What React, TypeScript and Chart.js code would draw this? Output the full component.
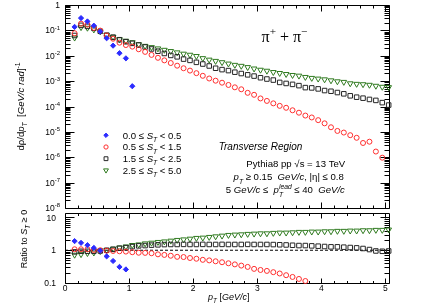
import React, { useEffect, useRef } from 'react';
import { Chart, registerables } from 'chart.js';
import { drawPoint } from 'chart.js/helpers';

Chart.register(...registerables);

// ---------------- data ----------------
const ptBins = [0.15, 0.25, 0.35, 0.45, 0.55, 0.65, 0.75, 0.85, 0.95, 1.05,
  1.15, 1.25, 1.35, 1.45, 1.55, 1.65, 1.75, 1.85, 1.95, 2.05,
  2.15, 2.25, 2.35, 2.45, 2.55, 2.65, 2.75, 2.85, 2.95, 3.05,
  3.15, 3.25, 3.35, 3.45, 3.55, 3.65, 3.75, 3.85, 3.95, 4.05,
  4.15, 4.25, 4.35, 4.45, 4.55, 4.65, 4.75, 4.85, 4.95, 5.05];

// dρ/dpT spectra per S_T class
const spectrumSt0 = [0.137, 0.305, 0.225, 0.153, 0.09, 0.049, 0.025, 0.0126, 0.0079, 0.00063];
const spectrumSt1 = [0.077, 0.184, 0.168, 0.125, 0.098, 0.0629, 0.0469, 0.0328, 0.0264, 0.0229,
  0.018, 0.0142, 0.0108, 0.0083, 0.00658, 0.00517, 0.00406, 0.00322, 0.0026, 0.00206,
  0.00162, 0.00127, 0.00104, 8.67e-4, 7.06e-4, 5.7e-4, 4.77e-4, 3.46e-4, 2.89e-4, 2.08e-4,
  1.66e-4, 1.33e-4, 1.06e-4, 8.9e-5, 7.1e-5, 5.7e-5, 4.4e-5, 3.7e-5, 2.9e-5, 2.17e-5,
  1.52e-5, 1.09e-5, 9.4e-6, 7.4e-6, 5.85e-6, 3.65e-6, 4.1e-6, 1.68e-6, 9.6e-7];
const spectrumSt2 = [0.0629, 0.158, 0.144, 0.121, 0.092, 0.0646, 0.054, 0.0428, 0.0358, 0.0308,
  0.0264, 0.0221, 0.0185, 0.0151, 0.0123, 0.0103, 0.00906, 0.00738, 0.00657, 0.0055,
  0.00472, 0.00395, 0.00322, 0.00284, 0.0026, 0.00225, 0.00199, 0.00177, 0.00158, 0.00136,
  0.00121, 0.0011, 8.9e-4, 8.1e-4, 7.45e-4, 6.64e-4, 5.55e-4, 5.4e-4, 4.94e-4, 4.25e-4,
  3.99e-4, 3.55e-4, 3.16e-4, 2.64e-4, 2.33e-4, 2.13e-4, 1.9e-4, 1.74e-4, 1.42e-4, 1.14e-4];
const spectrumSt3 = [0.0512, 0.132, 0.125, 0.107, 0.0898, 0.0658, 0.055, 0.044, 0.0385, 0.0337,
  0.0282, 0.0242, 0.0216, 0.0192, 0.0169, 0.0151, 0.0134, 0.0119, 0.0108, 0.00964,
  0.00794, 0.00693, 0.00618, 0.0055, 0.00485, 0.00432, 0.00395, 0.00352, 0.0031, 0.00277,
  0.00253, 0.00225, 0.00206, 0.00188, 0.00172, 0.00162, 0.00144, 0.00132, 0.00124, 0.00116,
  0.00106, 9.7e-4, 9.2e-4, 8.1e-4, 7.7e-4, 7.45e-4, 7.06e-4, 6.46e-4, 5.9e-4, 5.7e-4];

// ratios to S_T >= 0
const ratioSt0 = [1.9, 1.68, 1.43, 1.18, 0.97, 0.65, 0.47, 0.31, 0.26];
const ratioSt1 = [1.07, 1.07, 1.07, 1.02, 1.0, 0.97, 0.95, 0.93, 0.91, 0.87,
  0.84, 0.83, 0.81, 0.75, 0.72, 0.68, 0.63, 0.62, 0.58, 0.55,
  0.51, 0.49, 0.46, 0.43, 0.4, 0.37, 0.34, 0.31, 0.27, 0.25,
  0.234, 0.214, 0.195, 0.173, 0.153, 0.133, 0.115];
const ratioSt2 = [0.89, 0.93, 0.93, 0.93, 0.95, 1.0, 1.07, 1.15, 1.2, 1.29,
  1.36, 1.39, 1.43, 1.46, 1.49, 1.5, 1.5, 1.51, 1.5, 1.5,
  1.51, 1.5, 1.5, 1.51, 1.5, 1.5, 1.5, 1.51, 1.5, 1.5,
  1.5, 1.49, 1.47, 1.45, 1.42, 1.39, 1.39, 1.36, 1.33, 1.3,
  1.27, 1.27, 1.24, 1.21, 1.18, 1.13, 1.05, 0.95, 0.93, 0.95];
const ratioSt3 = [0.72, 0.75, 0.81, 0.84, 0.93, 1.0, 1.1, 1.2, 1.29, 1.43,
  1.49, 1.6, 1.68, 1.77, 1.84, 1.94, 2.04, 2.12, 2.23, 2.35,
  2.4, 2.52, 2.63, 2.76, 2.9, 2.97, 3.03, 3.12, 3.18, 3.25,
  3.25, 3.35, 3.42, 3.42, 3.49, 3.59, 3.59, 3.67, 3.67, 3.75,
  3.75, 3.86, 3.86, 3.94, 3.94, 4.03, 4.03, 4.14, 4.14, 4.24];

const stLow = ['0.0', '0.5', '1.5', '2.5'];
const stHigh = ['0.5', '1.5', '2.5', '5.0'];
const xTickValues = [0, 1, 2, 3, 4, 5];
const xTickLabels = ['0', '1', '2', '3', '4', '5'];
const topYExponents = [-8, -7, -6, -5, -4, -3, -2, -1, 0];
const ratioYTicks = [0.1, 1, 10];
const ratioYTickLabels = ['0.1', '1', '10'];

// ---------------- styles ----------------
const SANS = '"Liberation Sans", Arial, Helvetica, sans-serif';
const SERIF = '"Liberation Serif", "Times New Roman", serif';
const COLORS = ['#2b2bff', '#ff2e2e', '#262626', '#2f7a1f'];
const MARK = [
  { style: 'rectRot', r: 2.6, rot: 0, fill: true },
  { style: 'circle', r: 2.5, rot: 0, fill: false },
  { style: 'rect', r: 3.2, rot: 0, fill: false },
  { style: 'triangle', r: 3.3, rot: 180, fill: false },
];

type Seg = { k: 'n' | 'sub' | 'sup' | 'stack'; t: string; t2?: string; i?: boolean };
const N = (t: string, i = false): Seg => ({ k: 'n', t, i });
const SUB = (t: string, i = true): Seg => ({ k: 'sub', t, i });
const SUP = (t: string, i = false): Seg => ({ k: 'sup', t, i });
const STK = (sup: string, sub: string, i = true): Seg => ({ k: 'stack', t: sup, t2: sub, i });

function drawRich(ctx: CanvasRenderingContext2D, segs: Seg[], x: number, yc: number, size: number,
  align: 'left' | 'center' | 'right', fam = SANS) {
  const fnt = (sz: number, it?: boolean) => `${it ? 'italic ' : ''}${sz}px ${fam}`;
  const small = size * 0.7;
  const widths = segs.map((s) => {
    if (s.k === 'stack') {
      ctx.font = fnt(small, s.i);
      return Math.max(ctx.measureText(s.t).width, ctx.measureText(s.t2 || '').width);
    }
    ctx.font = fnt(s.k === 'n' ? size : small, s.i);
    return ctx.measureText(s.t).width;
  });
  const total = widths.reduce((a, b) => a + b, 0);
  let cx = align === 'left' ? x : align === 'center' ? x - total / 2 : x - total;
  const base = yc + 0.36 * size;
  ctx.textAlign = 'left';
  ctx.textBaseline = 'alphabetic';
  ctx.fillStyle = '#000';
  segs.forEach((s, j) => {
    if (s.k === 'stack') {
      ctx.font = fnt(small, s.i);
      ctx.fillText(s.t, cx, base - 0.45 * size);
      ctx.fillText(s.t2 || '', cx, base + 0.32 * size);
    } else {
      ctx.font = fnt(s.k === 'n' ? size : small, s.i);
      const dy = s.k === 'sub' ? 0.32 * size : s.k === 'sup' ? -0.42 * size : 0;
      ctx.fillText(s.t, cx, base + dy);
    }
    cx += widths[j];
  });
}

function drawFrameTicks(chart: any, xMaj: number, xMin: number, yMaj: number, yMin: number) {
  const { ctx, chartArea: a, scales } = chart;
  const xs = scales.x;
  const ys = scales.y;
  ctx.save();
  ctx.strokeStyle = '#000';
  ctx.lineWidth = 1;
  const L = Math.floor(a.left) + 0.5, R = Math.floor(a.right) + 0.5;
  const T = Math.floor(a.top) + 0.5, B = Math.floor(a.bottom) + 0.5;
  ctx.beginPath();
  ctx.rect(L, T, R - L, B - T);
  for (let k = 0; k <= 25; k++) {
    const v = k * 0.2;
    if (v > xs.max) break;
    const px = Math.round(xs.getPixelForValue(v)) + 0.5;
    const len = k % 5 === 0 ? xMaj : xMin;
    ctx.moveTo(px, B); ctx.lineTo(px, B - len);
    ctx.moveTo(px, T); ctx.lineTo(px, T + len);
  }
  const e0 = Math.floor(Math.log10(ys.min));
  const e1 = Math.ceil(Math.log10(ys.max));
  for (let e = e0; e <= e1; e++) {
    for (let m = 1; m <= 9; m++) {
      const v = m * Math.pow(10, e);
      if (v < ys.min * 0.999 || v > ys.max * 1.001) continue;
      const py = Math.round(ys.getPixelForValue(v)) + 0.5;
      const len = m === 1 ? yMaj : yMin;
      ctx.moveTo(L, py); ctx.lineTo(L + len, py);
      ctx.moveTo(R, py); ctx.lineTo(R - len, py);
    }
  }
  ctx.stroke();
  ctx.restore();
}

function pts(vals: number[]) {
  return vals.map((y, i) => ({ x: ptBins[i], y }));
}

function makeDatasets(series: number[][]) {
  return series.map((vals, k) => ({
    data: pts(vals),
    pointStyle: MARK[k].style as any,
    pointRadius: MARK[k].r,
    pointRotation: MARK[k].rot,
    pointBackgroundColor: MARK[k].fill ? COLORS[k] : 'rgba(0,0,0,0)',
    pointBorderColor: COLORS[k],
    pointBorderWidth: 1,
    showLine: false,
    clip: false as const,
  }));
}

const topPlugin = {
  id: 'topDecor',
  beforeDatasetsDraw(chart: any) {
    drawFrameTicks(chart, 6, 3, 9, 5);
  },
  afterDraw(chart: any) {
    const { ctx, scales } = chart;
    ctx.save();
    // y tick labels
    topYExponents.forEach((e) => {
      const py = scales.y.getPixelForValue(Math.pow(10, e));
      if (e === 0) drawRich(ctx, [N('1')], 60, py, 8.5, 'right');
      else drawRich(ctx, [N('10'), SUP(`-${-e}`)], 60, py, 8.5, 'right');
    });
    // y title
    ctx.save();
    ctx.translate(20.7, 106.5);
    ctx.rotate(-Math.PI / 2);
    drawRich(ctx, [N('d\u03c1/d'), N('p', true), SUB('T'), N('  ['), N('GeV/c rad', true), N(']'), SUP('-1')], 0, 0, 9.6, 'center');
    ctx.restore();
    // legend
    const rows = [135.3, 147, 158.7, 170.3];
    rows.forEach((y, k) => {
      ctx.save();
      ctx.fillStyle = MARK[k].fill ? COLORS[k] : 'rgba(0,0,0,0)';
      ctx.strokeStyle = COLORS[k];
      ctx.lineWidth = 1;
      drawPoint(ctx, { pointStyle: MARK[k].style as any, radius: MARK[k].r * 0.85, rotation: MARK[k].rot, borderWidth: 1 } as any, 106, y);
      ctx.restore();
      drawRich(ctx, [N(`${stLow[k]} \u2264 `), N('S', true), SUB('T'), N(` < ${stHigh[k]}`)], 122.7, y, 9.6, 'left');
    });
    // particle label
    drawRich(ctx, [N('\u03c0'), SUP('+'), N(' + \u03c0'), SUP('\u2212')], 284.5, 36, 16, 'center', SERIF);
    // annotations
    drawRich(ctx, [N('Transverse Region', true)], 260.5, 146, 10, 'center');
    drawRich(ctx, [N('Pythia8 pp \u221as = 13 TeV')], 295.8, 163.3, 9.6, 'center');
    drawRich(ctx, [N('p', true), SUB('T'), N(' \u2265 0.15  '), N('GeV/c', true), N(', |\u03b7| \u2264 0.8')], 288.7, 177, 9.6, 'center');
    drawRich(ctx, [N('5 '), N('GeV/c', true), N(' \u2264  '), N('p', true), STK('lead', 'T'), N(' \u2264 40  '), N('GeV/c', true)], 285.3, 190, 9.6, 'center');
    ctx.restore();
  },
};

const OFF = 200; // page y of bottom canvas
const botPlugin = {
  id: 'botDecor',
  beforeDatasetsDraw(chart: any) {
    drawFrameTicks(chart, 5, 2.5, 9, 5);
  },
  afterDraw(chart: any) {
    const { ctx, scales } = chart;
    ctx.save();
    ratioYTicks.forEach((v, j) => {
      drawRich(ctx, [N(ratioYTickLabels[j])], 56, scales.y.getPixelForValue(v), 8.5, 'right');
    });
    xTickValues.forEach((v, j) => {
      drawRich(ctx, [N(xTickLabels[j])], scales.x.getPixelForValue(v), 288.3 - OFF, 8.5, 'center');
    });
    drawRich(ctx, [N('p', true), SUB('T'), N(' ['), N('GeV/c', true), N(']')], 228.8, 296.7 - OFF, 9, 'center');
    ctx.save();
    ctx.translate(24, 239 - OFF);
    ctx.rotate(-Math.PI / 2);
    drawRich(ctx, [N('Ratio to '), N('S', true), SUB('T'), N(' \u2265 0')], 0, 0, 9, 'center');
    ctx.restore();
    ctx.restore();
  },
};

const X_MAX = 5.055;

export default function App() {
  const topRef = useRef<HTMLCanvasElement>(null);
  const botRef = useRef<HTMLCanvasElement>(null);

  useEffect(() => {
    const common = {
      animation: false as const,
      responsive: false,
      devicePixelRatio: 1,
      events: [] as any[],
      plugins: { legend: { display: false }, tooltip: { enabled: false } },
    };
    const top = new Chart(topRef.current as HTMLCanvasElement, {
      type: 'scatter',
      data: { datasets: makeDatasets([spectrumSt0, spectrumSt1, spectrumSt2, spectrumSt3]) as any },
      options: {
        ...common,
        layout: { padding: { left: 65, right: 47, top: 4, bottom: 1 } },
        scales: {
          x: { type: 'linear', min: 0, max: X_MAX, display: false },
          y: { type: 'logarithmic', min: 1e-8, max: 1, display: false },
        },
      } as any,
      plugins: [topPlugin],
    });
    const ratioSets: any[] = makeDatasets([ratioSt0, ratioSt1, ratioSt2, ratioSt3]);
    ratioSets.push({
      type: 'line',
      data: [{ x: 0, y: 1 }, { x: X_MAX, y: 1 }],
      borderColor: '#000',
      borderWidth: 1,
      borderDash: [3, 2],
      pointRadius: 0,
      showLine: true,
      fill: false,
    });
    const bot = new Chart(botRef.current as HTMLCanvasElement, {
      type: 'scatter',
      data: { datasets: ratioSets },
      options: {
        ...common,
        layout: { padding: { left: 65, right: 47, top: 13, bottom: 22 } },
        scales: {
          x: { type: 'linear', min: 0, max: X_MAX, display: false },
          y: { type: 'logarithmic', min: 0.1, max: 13.7, display: false },
        },
      } as any,
      plugins: [botPlugin],
    });
    return () => {
      top.destroy();
      bot.destroy();
    };
  }, []);

  return (
    <div style={{ position: 'absolute', left: 0, top: 0, width: 436, height: 305, background: '#fff', overflow: 'hidden' }}>
      <canvas ref={topRef} width={436} height={213} style={{ position: 'absolute', left: 0, top: 0, width: 436, height: 213 }} />
      <canvas ref={botRef} width={436} height={105} style={{ position: 'absolute', left: 0, top: OFF, width: 436, height: 105 }} />
    </div>
  );
}
